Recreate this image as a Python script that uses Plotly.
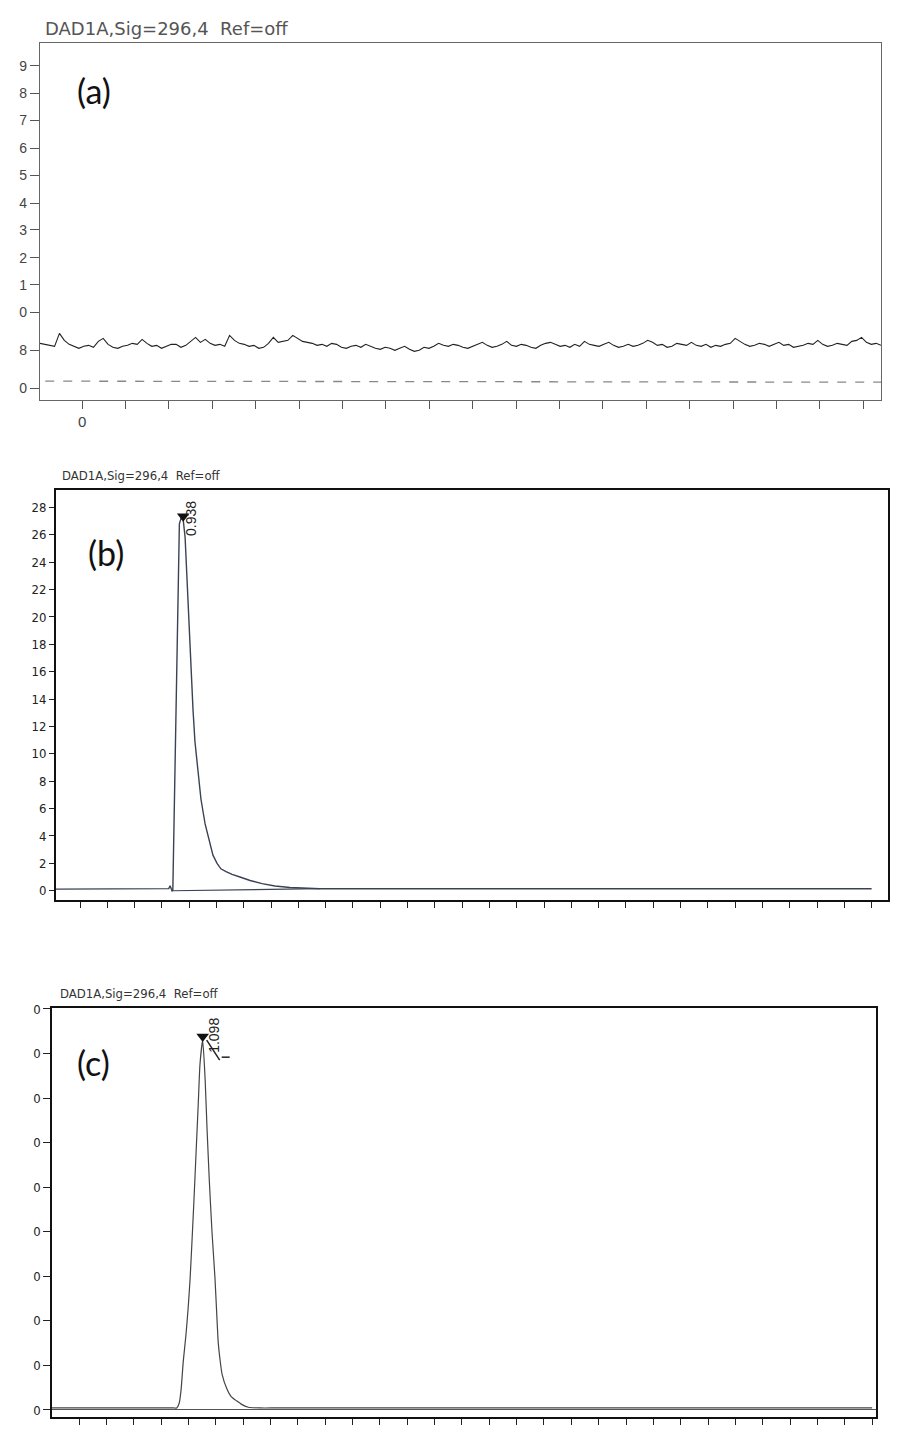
import plotly.graph_objects as go
import numpy as np

W, H = 902, 1436

title_text = "DAD1A,Sig=296,4  Ref=off"

# ---------------- Panel (a) ----------------
a_tick_vals = [0, 38, 76, 104, 131, 159, 186, 214, 241, 269, 296, 324]
a_tick_text = ["0", "8", "0", "1", "2", "3", "4", "5", "6", "7", "8", "9"]
a_x_ticks = list(range(19))
a_x_ticktext = ["0"] + [""] * 18
a_signal = [45, 44, 43, 42, 55, 48, 44, 42, 40, 42, 43, 41, 47, 50, 44, 41, 40, 42,
            43, 45, 44, 49, 45, 42, 43, 40, 42, 44, 44, 41, 43, 47, 51, 46, 49, 45,
            43, 44, 42, 53, 48, 45, 44, 42, 43, 40, 41, 45, 51, 46, 47, 48, 53, 50,
            47, 46, 45, 43, 44, 42, 45, 44, 41, 40, 42, 43, 41, 44, 42, 40, 39, 41,
            40, 38, 40, 42, 39, 37, 38, 41, 40, 42, 45, 43, 42, 44, 43, 41, 40, 42,
            44, 46, 43, 41, 42, 44, 47, 43, 42, 44, 43, 41, 40, 43, 45, 46, 44, 42,
            43, 41, 44, 42, 47, 44, 43, 42, 44, 46, 43, 41, 42, 44, 42, 43, 45, 48,
            46, 43, 44, 41, 42, 45, 44, 43, 46, 43, 42, 44, 41, 43, 42, 44, 45, 50,
            47, 44, 42, 43, 45, 44, 42, 44, 46, 43, 44, 41, 42, 43, 45, 44, 48, 44,
            42, 43, 45, 44, 43, 47, 48, 51, 46, 44, 45, 43]
a_signal_x = np.linspace(-0.97, 18.41, len(a_signal))
a_dash_x = [-0.85, 18.41]
a_dash_y = [7, 6]

# ---------------- Panel (b) ----------------
b_x = [-0.88, 3.25, 3.30, 3.37, 3.40, 3.64, 3.70, 3.78, 3.85, 3.92, 3.99, 4.07,
       4.14, 4.21, 4.32, 4.43, 4.58, 4.73, 4.87, 5.02, 5.16, 5.35, 5.57, 5.86,
       6.23, 6.67, 7.14, 7.69, 8.24, 8.79, 29.0]
b_y = [0.12, 0.15, 0.36, 0.0, 0.05, 26.8, 27.2, 27.1, 25.8, 22.5, 19.0, 15.8,
       13.2, 10.9, 8.6, 6.7, 4.9, 3.6, 2.6, 2.0, 1.6, 1.4, 1.2, 1.0,
       0.75, 0.52, 0.35, 0.24, 0.18, 0.15, 0.15]
b_base_x = [3.37, 8.79]
b_base_y = [0.0, 0.15]
b_peak_x, b_peak_y = 3.78, 27.1
b_peak_label = "0.938"
b_tick_vals = list(range(0, 29, 2))
b_x_ticks = list(range(30))

# ---------------- Panel (c) ----------------
c_x = [-0.99, 1.0, 2.5, 3.2, 3.45, 3.57, 3.66, 3.73, 3.81, 3.91, 3.99, 4.06, 4.13,
       4.20, 4.28, 4.36, 4.42, 4.52, 4.61, 4.68, 4.76, 4.86, 4.97, 5.03, 5.09,
       5.16, 5.23, 5.40, 5.56, 5.77, 5.96, 6.19, 6.62, 7.2, 9.0, 15.0, 22.0, 29.0]
c_y = [0.45, 0.45, 0.45, 0.45, 0.45, 0.45, 1.5, 4.5, 10.9, 17, 23, 29.5, 38,
       47, 58, 69, 77.5, 83, 74.1, 63, 51.8, 40, 29.5, 22, 15,
       11, 8, 4.8, 3.0, 2.0, 1.2, 0.6, 0.45, 0.45, 0.45, 0.45, 0.45, 0.45]
c_peak_x, c_peak_y = 4.52, 83.0
c_peak_label = "1.098"
c_tick_vals = list(range(0, 91, 10))
c_tick_text = ["0"] * 10
c_x_ticks = list(range(30))


def px(x):
    return x / W


def py(y):
    return 1 - y / H


fig = go.Figure()

# Panel a traces
fig.add_trace(go.Scatter(x=a_signal_x, y=a_signal, mode="lines",
                         line=dict(color="#222222", width=1.1),
                         xaxis="x", yaxis="y", showlegend=False))
fig.add_trace(go.Scatter(x=a_dash_x, y=a_dash_y, mode="lines",
                         line=dict(color="#888888", width=1.3, dash="dash"),
                         xaxis="x", yaxis="y", showlegend=False))

# Panel b traces
fig.add_trace(go.Scatter(x=b_x, y=b_y, mode="lines",
                         line=dict(color="#3a4254", width=1.4),
                         xaxis="x2", yaxis="y2", showlegend=False))
fig.add_trace(go.Scatter(x=b_base_x, y=b_base_y, mode="lines",
                         line=dict(color="#3a4254", width=1.2),
                         xaxis="x2", yaxis="y2", showlegend=False))
fig.add_trace(go.Scatter(x=[b_peak_x], y=[b_peak_y + 0.25], mode="markers",
                         marker=dict(symbol="triangle-down", size=11, color="#111111"),
                         xaxis="x2", yaxis="y2", showlegend=False))

# Panel c traces
fig.add_trace(go.Scatter(x=c_x, y=c_y, mode="lines",
                         line=dict(color="#444444", width=1.2, shape="spline", smoothing=0.5),
                         xaxis="x3", yaxis="y3", showlegend=False))
fig.add_trace(go.Scatter(x=[c_peak_x], y=[c_peak_y + 0.8], mode="markers",
                         marker=dict(symbol="triangle-down", size=11, color="#111111"),
                         xaxis="x3", yaxis="y3", showlegend=False))

narrow = "DejaVu Sans Condensed, Liberation Sans Narrow, Liberation Sans, sans-serif"

axis_common = dict(showgrid=False, zeroline=False, showline=True, mirror=True,
                   ticks="outside")

fig.update_layout(
    width=W, height=H,
    margin=dict(l=0, r=0, t=0, b=0),
    paper_bgcolor="white", plot_bgcolor="white",
    xaxis=dict(domain=[px(40), px(881)], range=[-0.97, 18.41],
               tickvals=a_x_ticks, ticktext=a_x_ticktext, ticklen=8, tickwidth=1.3,
               tickcolor="#555555", linecolor="#666666", linewidth=1.4,
               tickfont=dict(family="Liberation Sans, Arial, sans-serif", size=15, color="#444444"),
               anchor="y", **axis_common),
    yaxis=dict(domain=[py(395), py(36)], range=[-12, 347],
               tickvals=a_tick_vals, ticktext=a_tick_text, ticklen=9, tickwidth=1.3,
               tickcolor="#555555", linecolor="#666666", linewidth=1.4,
               tickfont=dict(family="Liberation Sans, Arial, sans-serif", size=14, color="#444444"),
               anchor="x", **axis_common),
    xaxis2=dict(domain=[px(56), px(888)], range=[-0.88, 29.6],
                tickvals=b_x_ticks, showticklabels=False, ticklen=6, tickwidth=1.3,
                tickcolor="#222222", linecolor="#111111", linewidth=2,
                anchor="y2", **axis_common),
    yaxis2=dict(domain=[py(897), py(485)], range=[-0.65, 29.3],
                tickvals=b_tick_vals, ticklen=5, tickwidth=1.3,
                tickcolor="#222222", linecolor="#111111", linewidth=2,
                tickfont=dict(family=narrow, size=13, color="#222222"),
                anchor="x2", **axis_common),
    xaxis3=dict(domain=[px(52), px(876)], range=[-0.99, 29.14],
                tickvals=c_x_ticks, showticklabels=False, ticklen=6, tickwidth=1.3,
                tickcolor="#222222", linecolor="#111111", linewidth=1.6,
                anchor="y3", **axis_common),
    yaxis3=dict(domain=[py(1417), py(1006)], range=[-1.6, 90.2],
                tickvals=c_tick_vals, ticktext=c_tick_text, ticklen=7, tickwidth=1.3,
                tickcolor="#222222", linecolor="#111111", linewidth=1.6,
                tickfont=dict(family=narrow, size=13, color="#222222"),
                anchor="x3", showgrid=False, zeroline=True, zerolinecolor="#555555",
                zerolinewidth=1, showline=True, mirror=True, ticks="outside"),
)

annotations = [
    dict(text=title_text, x=px(43), y=py(22), xanchor="left", yanchor="middle",
         font=dict(family="DejaVu Sans, sans-serif", size=18, color="#555555")),
    dict(text=title_text, x=px(60), y=py(471), xanchor="left", yanchor="middle",
         font=dict(family=narrow, size=13, color="#333333")),
    dict(text=title_text, x=px(58), y=py(991), xanchor="left", yanchor="middle",
         font=dict(family=narrow, size=13, color="#333333")),
    dict(text="(a)", x=px(94), y=py(84), xanchor="center", yanchor="middle",
         font=dict(family="Lato, Open Sans, sans-serif", size=34, color="#111111")),
    dict(text="(b)", x=px(106), y=py(548), xanchor="center", yanchor="middle",
         font=dict(family="Lato, Open Sans, sans-serif", size=34, color="#111111")),
    dict(text="(c)", x=px(93), y=py(1061), xanchor="center", yanchor="middle",
         font=dict(family="Lato, Open Sans, sans-serif", size=34, color="#111111")),
    dict(text=b_peak_label, x=b_peak_x, y=b_peak_y, xref="x2", yref="y2",
         textangle=-90, xshift=8, yshift=1, xanchor="center", yanchor="middle",
         font=dict(family="Liberation Sans, Arial, sans-serif", size=14, color="#222222")),
    dict(text=c_peak_label, x=c_peak_x, y=c_peak_y, xref="x3", yref="y3",
         textangle=-90, xshift=11, yshift=5, xanchor="center", yanchor="middle",
         font=dict(family="Liberation Sans, Arial, sans-serif", size=14, color="#222222")),
]
for a in annotations:
    a.setdefault("xref", "paper")
    a.setdefault("yref", "paper")
    a["showarrow"] = False
fig.update_layout(annotations=annotations)

# small integration tick marks next to peak (c)
fig.add_shape(type="line", xref="x3", yref="y3", xsizemode="pixel", ysizemode="pixel",
              xanchor=c_peak_x, yanchor=c_peak_y, x0=4, x1=17, y0=0, y1=-20,
              line=dict(color="#222222", width=1.5))
fig.add_shape(type="line", xref="x3", yref="y3", xsizemode="pixel", ysizemode="pixel",
              xanchor=c_peak_x, yanchor=c_peak_y, x0=19, x1=27, y0=-17, y1=-17,
              line=dict(color="#222222", width=1.5))

fig.write_html("out.html")
